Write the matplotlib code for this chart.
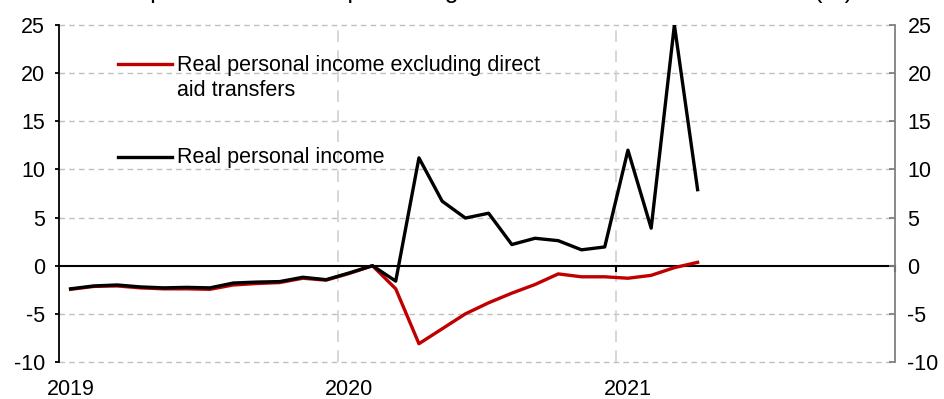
import matplotlib.pyplot as plt
import numpy as np

plt.rcParams['font.family'] = ['Liberation Sans', 'DejaVu Sans']
plt.rcParams['axes.unicode_minus'] = False

# Monthly data, Jan 2019 - Apr 2021 (% vs Feb 2020)
months = np.arange(28)
real_income = [-2.4, -2.1, -2.0, -2.2, -2.3, -2.25, -2.3, -1.8, -1.7, -1.65,
               -1.2, -1.45, -0.75, 0.0, -1.6, 11.2, 6.7, 4.95, 5.45, 2.2,
               2.85, 2.6, 1.65, 1.95, 12.0, 3.9, 25.0, 7.9]
real_income_ex_aid = [-2.45, -2.15, -2.1, -2.3, -2.4, -2.4, -2.45, -2.0, -1.85, -1.75,
                      -1.3, -1.5, -0.8, 0.0, -2.4, -8.1, -6.55, -5.0, -3.85, -2.85,
                      -1.95, -0.85, -1.15, -1.15, -1.3, -1.0, -0.2, 0.35]
year_labels = ['2019', '2020', '2021']

title = 'Real personal income: percentage deviation from Feb 2020 level (%)'
label_ex = 'Real personal income excluding direct\naid transfers'
label_all = 'Real personal income'

FS = 15.5

fig = plt.figure(figsize=(9.45, 3.99), dpi=100)
ax = fig.add_axes([59 / 945, 37 / 399, 836 / 945, 337 / 399])

x = months + 0.5
ax.plot(x, real_income_ex_aid, color='#C00000', lw=2.4, zorder=3)
ax.plot(x, real_income, color='black', lw=2.4, zorder=4)

ax.set_xlim(0, 36)
ax.set_ylim(-10, 25)
ax.set_yticks(np.arange(-10, 26, 5))

# year gridlines + labels in the middle of January
ax.set_xticks([12, 24])
ax.set_xticklabels([])
ax.tick_params(axis='x', which='major', length=0)
ax.set_xticks([0.5, 12.5, 24.5], minor=True)
ax.set_xticklabels(year_labels, minor=True, fontsize=FS)
ax.tick_params(axis='x', which='minor', length=0, pad=12)

for y in [-10, -5, 5, 10, 15, 20, 25]:
    ax.axhline(y, color='#BFBFBF', lw=1, ls=(0, (4, 3)), zorder=1, clip_on=False)
for xv in [12, 24]:
    ax.axvline(xv, color='#D0D0D0', lw=1.2, ls=(0, (7, 5)), zorder=1)
ax.axhline(0, color='black', lw=1.5, zorder=2)
for xv in [24, 36]:
    ax.plot([xv, xv], [0, -0.6], color='black', lw=1.5, zorder=2, clip_on=False)

for side in ['top', 'bottom', 'right']:
    ax.spines[side].set_visible(False)
ax.spines['left'].set_color('black')
ax.spines['left'].set_linewidth(1.3)
ax.tick_params(axis='y', direction='out', length=3, width=1.3, labelsize=FS, pad=7)

ax2 = ax.twinx()
ax2.set_ylim(-10, 25)
ax2.set_yticks(np.arange(-10, 26, 5))
for side in ['top', 'bottom', 'left']:
    ax2.spines[side].set_visible(False)
ax2.spines['right'].set_color('#808080')
ax2.spines['right'].set_linewidth(1.3)
ax2.tick_params(axis='y', direction='in', length=4, width=1.3, color='#808080',
                labelsize=FS, pad=9)

# legend drawn by hand
ax.plot([0.0706, 0.1352], [0.884, 0.884], transform=ax.transAxes,
        color='#C00000', lw=2.4, clip_on=False)
ax.text(0.141, 0.910, label_ex, transform=ax.transAxes, fontsize=FS,
        va='top', ha='left', linespacing=1.22)
ax.plot([0.0706, 0.1352], [0.608, 0.608], transform=ax.transAxes,
        color='black', lw=2.4, clip_on=False)
ax.text(0.141, 0.608, label_all, transform=ax.transAxes, fontsize=FS,
        va='center', ha='left')

fig.text(0.5, 1.005, title, fontsize=18, ha='center', va='baseline')

fig.savefig('out.png', dpi=100)
